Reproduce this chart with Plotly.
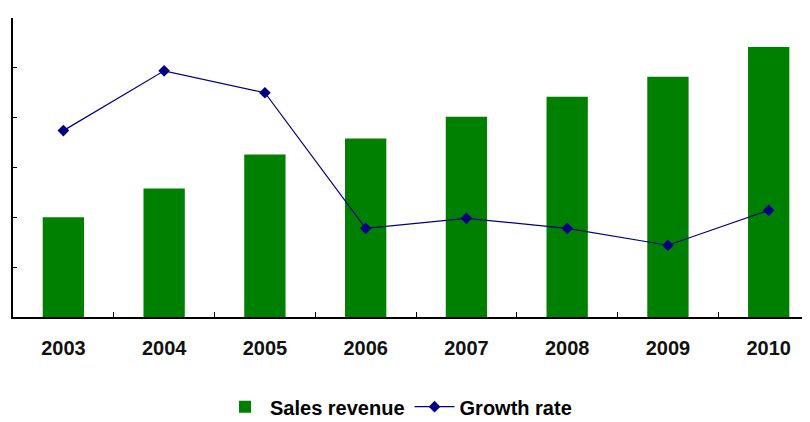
import plotly.graph_objects as go

years = ["2003", "2004", "2005", "2006", "2007", "2008", "2009", "2010"]
sales_revenue = [2.0, 2.58, 3.26, 3.58, 4.02, 4.42, 4.82, 5.42]
growth_rate = [3.74, 4.94, 4.5, 1.78, 1.98, 1.78, 1.44, 2.14]

fig = go.Figure()
fig.add_trace(go.Bar(
    x=years, y=sales_revenue, name="<b>Sales revenue</b>",
    marker=dict(color="#008000", line=dict(width=0)), width=0.41,
))
fig.add_trace(go.Scatter(
    x=years, y=growth_rate, name="<b>Growth rate</b>", mode="lines+markers",
    line=dict(color="#000080", width=1.2),
    marker=dict(symbol="diamond", size=9, color="#000080"),
))

fig.update_layout(
    width=802, height=414,
    margin=dict(l=5, r=0, t=10, b=105, pad=0, autoexpand=False),
    paper_bgcolor="white", plot_bgcolor="white",
    showlegend=True,
    legend=dict(orientation="h", x=0.4837, xanchor="center", y=-0.30, yanchor="middle",
                font=dict(family="Liberation Sans", size=20, color="black"),
                traceorder="normal", itemwidth=40, tracegroupgap=0),
    font=dict(family="Liberation Sans", color="black"),
)
fig.update_xaxes(
    type="category", range=[-0.5, 7.41], tickson="boundaries",
    showline=True, linecolor="black", linewidth=1.5,
    ticks="inside", ticklen=5, tickcolor="black", tickwidth=1,
    tickfont=dict(family="Liberation Sans", size=20, color="#111"),
    tickprefix="<b>", ticksuffix="</b>",
    ticklabelstandoff=12, showgrid=False, zeroline=False,
)
fig.update_yaxes(
    range=[0, 6], dtick=1, showticklabels=False,
    showline=True, linecolor="black", linewidth=1.5,
    ticks="inside", ticklen=4, tickcolor="black",
    showgrid=False, zeroline=False,
)

fig.write_html("out.html")
